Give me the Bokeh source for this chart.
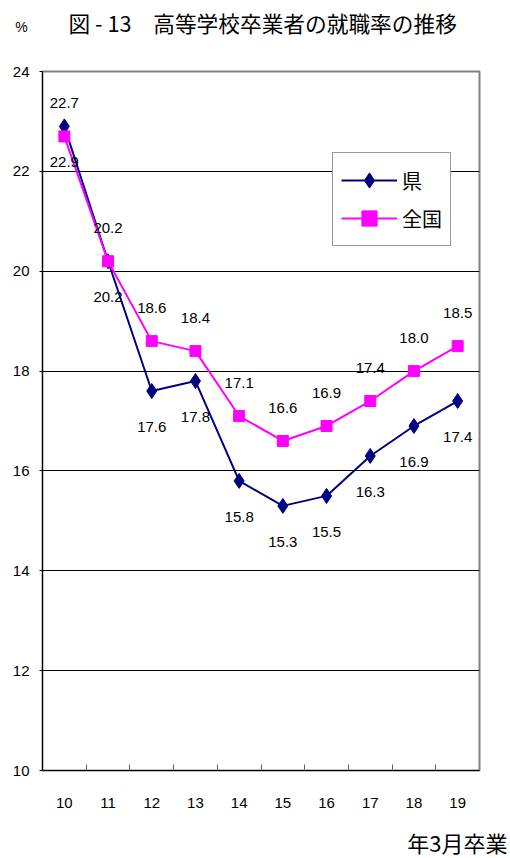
from bokeh.core.properties import value
from bokeh.embed import file_html
from bokeh.models import (ColumnDataSource, FixedTicker, Label, LabelSet,
                          Legend, LegendItem, Range1d)
from bokeh.plotting import figure
from bokeh.resources import INLINE

# Graduation year (Heisei, March graduates)
years = [10, 11, 12, 13, 14, 15, 16, 17, 18, 19]
year_labels = ["10", "11", "12", "13", "14", "15", "16", "17", "18", "19"]

# Employment rate of high-school graduates (%)
ken = [22.9, 20.2, 17.6, 17.8, 15.8, 15.3, 15.5, 16.3, 16.9, 17.4]
zenkoku = [22.7, 20.2, 18.6, 18.4, 17.1, 16.6, 16.9, 17.4, 18.0, 18.5]

y_ticks = [10, 12, 14, 16, 18, 20, 22, 24]

NUM_FONT = "Liberation Sans"
CJK_FONT = "Noto Sans CJK JP"
NAVY = "#000080"
MAGENTA = "#FF00FF"

src_ken = ColumnDataSource(dict(x=years, y=ken, t=[f"{v:.1f}" for v in ken]))
src_zen = ColumnDataSource(dict(x=years, y=zenkoku, t=[f"{v:.1f}" for v in zenkoku]))

p = figure(width=510, height=858, output_backend="svg", toolbar_location=None,
           x_range=Range1d(years[0] - 0.5, years[-1] + 0.5),
           y_range=Range1d(y_ticks[0], y_ticks[-1]),
           min_border_left=42, min_border_right=31,
           min_border_top=71, min_border_bottom=88,
           background_fill_color="white", border_fill_color="white")

p.outline_line_color = "#808080"
p.outline_line_width = 2

# x axis: year labels under each point, small inward ticks between years
p.xaxis.ticker = FixedTicker(ticks=years,
                             minor_ticks=[(a + b) / 2 for a, b in zip(years, years[1:])])
p.xaxis.major_label_overrides = {y: s for y, s in zip(years, year_labels)}
p.xaxis.major_tick_in = 0
p.xaxis.major_tick_out = 0
p.xaxis.minor_tick_in = 6
p.xaxis.minor_tick_out = 0
p.xaxis.minor_tick_line_color = "#606060"
p.xaxis.axis_line_color = "black"
p.xaxis.major_label_standoff = 27
p.xaxis.major_label_text_font = NUM_FONT
p.xaxis.major_label_text_font_size = "15px"
p.xaxis.major_label_text_color = "black"

p.yaxis.ticker = FixedTicker(ticks=y_ticks)
p.yaxis.major_tick_in = 0
p.yaxis.major_tick_out = 3
p.yaxis.minor_tick_line_color = None
p.yaxis.axis_line_color = "black"
p.yaxis.major_label_standoff = 10
p.yaxis.major_label_text_font = NUM_FONT
p.yaxis.major_label_text_font_size = "15px"
p.yaxis.major_label_text_color = "black"

p.xgrid.grid_line_color = None
p.ygrid.ticker = FixedTicker(ticks=y_ticks[1:-1])
p.ygrid.grid_line_color = "black"
p.ygrid.grid_line_width = 1

# prefecture series (drawn first, national series on top)
l_ken = p.line("x", "y", source=src_ken, line_color=NAVY, line_width=2)
m_ken = p.scatter("x", "y", source=src_ken, marker="diamond", size=15,
                  fill_color=NAVY, line_color=NAVY)
l_zen = p.line("x", "y", source=src_zen, line_color=MAGENTA, line_width=2)
m_zen = p.scatter("x", "y", source=src_zen, marker="square", size=11,
                  fill_color=MAGENTA, line_color=MAGENTA)

label_style = dict(text_font=value(NUM_FONT), text_font_size="15px",
                   text_color="black", text_align="center", text_baseline="middle")
p.add_layout(LabelSet(x="x", y="y", text="t", source=src_zen, y_offset=33, **label_style))
p.add_layout(LabelSet(x="x", y="y", text="t", source=src_ken, y_offset=-36, **label_style))

legend = Legend(items=[LegendItem(label="県", renderers=[l_ken, m_ken]),
                       LegendItem(label="全国", renderers=[l_zen, m_zen])],
                location=(290, 524), margin=0, padding=8, spacing=0,
                glyph_width=56, glyph_height=38, label_standoff=5,
                label_text_font=CJK_FONT, label_text_font_size="20px",
                label_text_color="black", label_text_baseline="middle",
                border_line_color="#303030", border_line_width=1,
                background_fill_color="white", background_fill_alpha=1.0)
p.add_layout(legend, "center")

# chart title and unit mark in the top margin
p.add_layout(Label(x=26, y=49, x_units="screen", y_units="screen",
                   text="図 - 13\u3000高等学校卒業者の就職率の推移",
                   text_font=CJK_FONT, text_font_size="21.7px", text_color="black",
                   text_align="left", text_baseline="middle"), "above")
p.add_layout(Label(x=-21, y=14, x_units="screen", y_units="screen", text="%",
                   text_font=NUM_FONT, text_font_size="14px",
                   text_color="black", text_align="center",
                   text_baseline="middle"), "above")

# caption under the year labels
p.add_layout(Label(x=465, y=1, x_units="screen", y_units="screen",
                   text="年3月卒業",
                   text_font=CJK_FONT, text_font_size="22px", text_color="black",
                   text_align="right", text_baseline="middle"), "below")

open("out.html", "w").write(file_html(p, INLINE))
